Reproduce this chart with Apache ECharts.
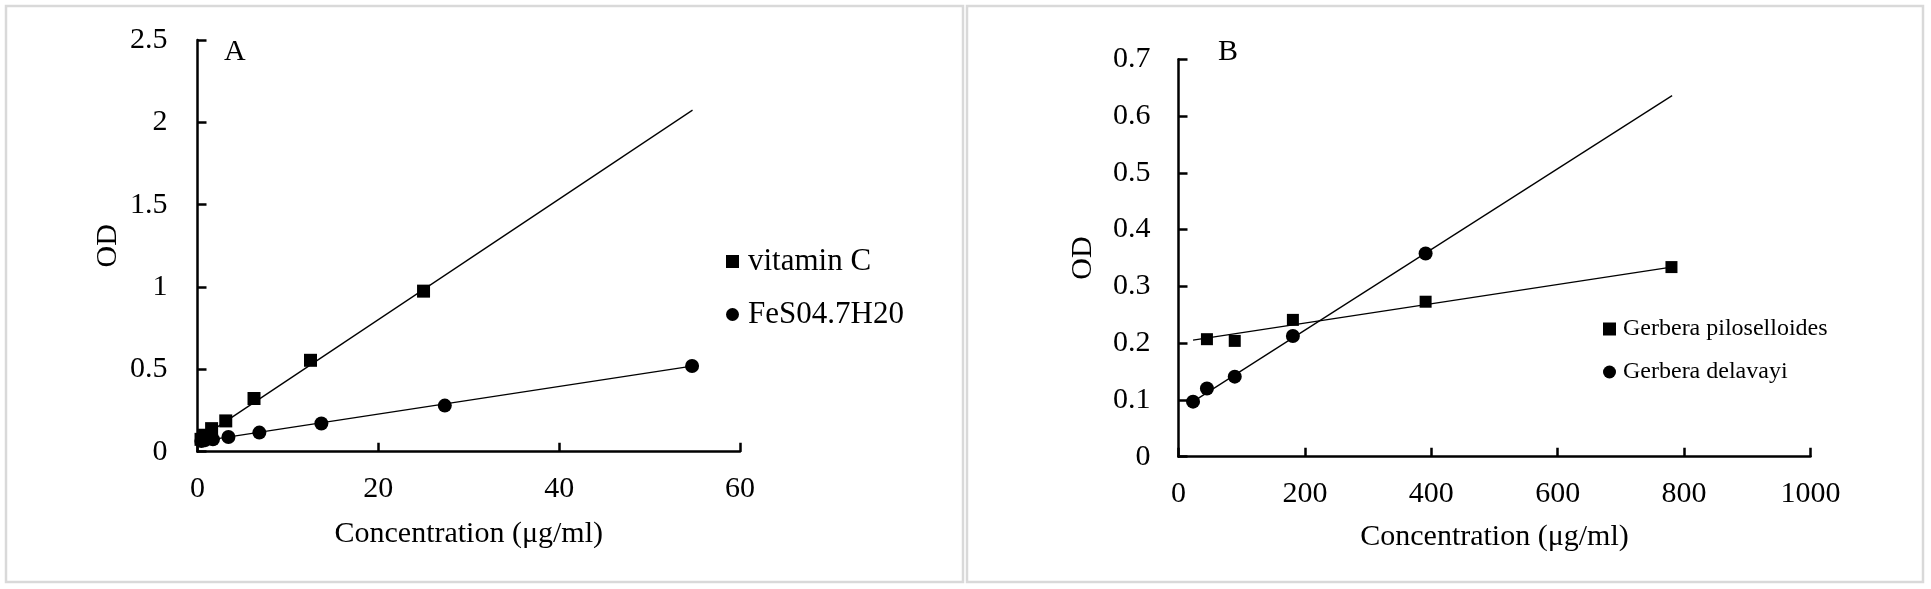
<!DOCTYPE html>
<html>
<head>
<meta charset="utf-8">
<title>OD vs concentration</title>
<script src="https://cdn.jsdelivr.net/npm/echarts/dist/echarts.min.js"></script>
<style>
  html, body { margin: 0; padding: 0; background: #fff; }
  #chart { width: 1931px; height: 589px; }
</style>
</head>
<body>
<div id="chart"></div>
<script>
// panel A
const vitcX = [0.39, 0.78, 1.56, 3.125, 6.25, 12.5, 25]
const vitcY = [0.075, 0.1, 0.14, 0.187, 0.323, 0.555, 0.975]
const vitcTrend = [[0.39, 0.084], [54.75, 2.074]]
const fesX = [0.43, 0.85, 1.71, 3.42, 6.84, 13.7, 27.35, 54.7]
const fesY = [0.065, 0.07, 0.075, 0.089, 0.116, 0.171, 0.28, 0.52]
const fesTrend = [[0.43, 0.064], [54.7, 0.52]]

// panel B
const piloX = [45, 89, 181, 391, 780]
const piloY = [0.207, 0.204, 0.241, 0.273, 0.334]
const piloTrend = [[23, 0.2055], [780, 0.334]]
const delaX = [23, 45, 89, 181, 391]
const delaY = [0.097, 0.12, 0.141, 0.2125, 0.358]
const delaTrend = [[23, 0.097], [781, 0.636]]

const serif = '"Liberation Serif", "Times New Roman", serif'

function pairs(xs, ys) {
  return xs.map((x, i) => [x, ys[i]])
}

function xAxis(gridIndex, max, interval, gap) {
  return {
    type: 'value', gridIndex: gridIndex, min: 0, max: max, interval: interval,
    name: 'Concentration (μg/ml)', nameLocation: 'middle', nameGap: gap,
    nameTextStyle: { fontFamily: serif, fontSize: 30, color: '#000' },
    axisLine: { lineStyle: { color: '#000', width: 2.5 } },
    axisTick: { inside: true, length: 9, lineStyle: { color: '#000', width: 2.5 } },
    axisLabel: { margin: 22, fontFamily: serif, fontSize: 30, color: '#000', formatter: v => String(v) },
    splitLine: { show: false }
  }
}

function yAxis(gridIndex, max, interval, gap, margin) {
  return {
    type: 'value', gridIndex: gridIndex, min: 0, max: max, interval: interval,
    name: 'OD', nameLocation: 'middle', nameGap: gap,
    nameTextStyle: { fontFamily: serif, fontSize: 30, color: '#000' },
    axisLine: { show: true, lineStyle: { color: '#000', width: 2.5 } },
    axisTick: { show: true, inside: true, length: 9, lineStyle: { color: '#000', width: 2.5 } },
    axisLabel: { margin: margin, fontFamily: serif, fontSize: 30, color: '#000' },
    splitLine: { show: false }
  }
}

function dots(name, idx, symbol, size, data) {
  return {
    name: name, type: 'scatter', xAxisIndex: idx, yAxisIndex: idx,
    symbol: symbol, symbolSize: size, data: data,
    itemStyle: { color: '#000', opacity: 1 }, z: 3
  }
}

function trend(idx, data) {
  return {
    type: 'line', xAxisIndex: idx, yAxisIndex: idx, data: data,
    symbol: 'none', silent: true,
    lineStyle: { color: '#000', width: 1.3 }, z: 2
  }
}

const chart = echarts.init(document.getElementById('chart'))
const option = {
  animation: false,
  backgroundColor: '#fff',
  grid: [
    { left: 197.5, top: 40, width: 542.5, height: 411.7 },
    { left: 1178.5, top: 59.3, width: 632, height: 397.4 }
  ],
  xAxis: [xAxis(0, 60, 20, 67), xAxis(1, 1000, 200, 65)],
  yAxis: [yAxis(0, 2.5, 0.5, 74, 30), yAxis(1, 0.7, 0.1, 80, 28)],
  legend: [
    {
      data: [{ name: 'vitamin C', icon: 'rect' }, { name: 'FeS04.7H20', icon: 'circle' }],
      orient: 'vertical', left: 721, top: 241,
      itemWidth: 13, itemHeight: 13, itemGap: 22, selectedMode: false,
      itemStyle: { opacity: 1 },
      textStyle: { fontFamily: serif, fontSize: 31, lineHeight: 31, color: '#000', padding: [0, 0, 0, 4] }
    },
    {
      data: [{ name: 'Gerbera piloselloides', icon: 'rect' }, { name: 'Gerbera delavayi', icon: 'circle' }],
      orient: 'vertical', left: 1598, top: 311.5,
      itemWidth: 13, itemHeight: 13, itemGap: 18, selectedMode: false,
      itemStyle: { opacity: 1 },
      textStyle: { fontFamily: serif, fontSize: 24, lineHeight: 25, color: '#000', padding: [0, 0, 0, 2] }
    }
  ],
  graphic: [
    { type: 'rect', shape: { x: 6, y: 6, width: 957, height: 576 },
      style: { fill: null, stroke: '#d9d9d9', lineWidth: 2.5 } },
    { type: 'rect', shape: { x: 967, y: 6, width: 956, height: 576 },
      style: { fill: null, stroke: '#d9d9d9', lineWidth: 2.5 } },
    { type: 'text', left: 224, top: 37,
      style: { text: 'A', fontFamily: serif, fontSize: 30, fill: '#000' } },
    { type: 'text', left: 1218, top: 37,
      style: { text: 'B', fontFamily: serif, fontSize: 30, fill: '#000' } }
  ],
  series: [
    trend(0, vitcTrend),
    trend(0, fesTrend),
    dots('vitamin C', 0, 'rect', 13, pairs(vitcX, vitcY)),
    dots('FeS04.7H20', 0, 'circle', 14, pairs(fesX, fesY)),
    trend(1, piloTrend),
    trend(1, delaTrend),
    dots('Gerbera piloselloides', 1, 'rect', 12, pairs(piloX, piloY)),
    dots('Gerbera delavayi', 1, 'circle', 14, pairs(delaX, delaY))
  ]
}
chart.setOption(option)
</script>
</body>
</html>
